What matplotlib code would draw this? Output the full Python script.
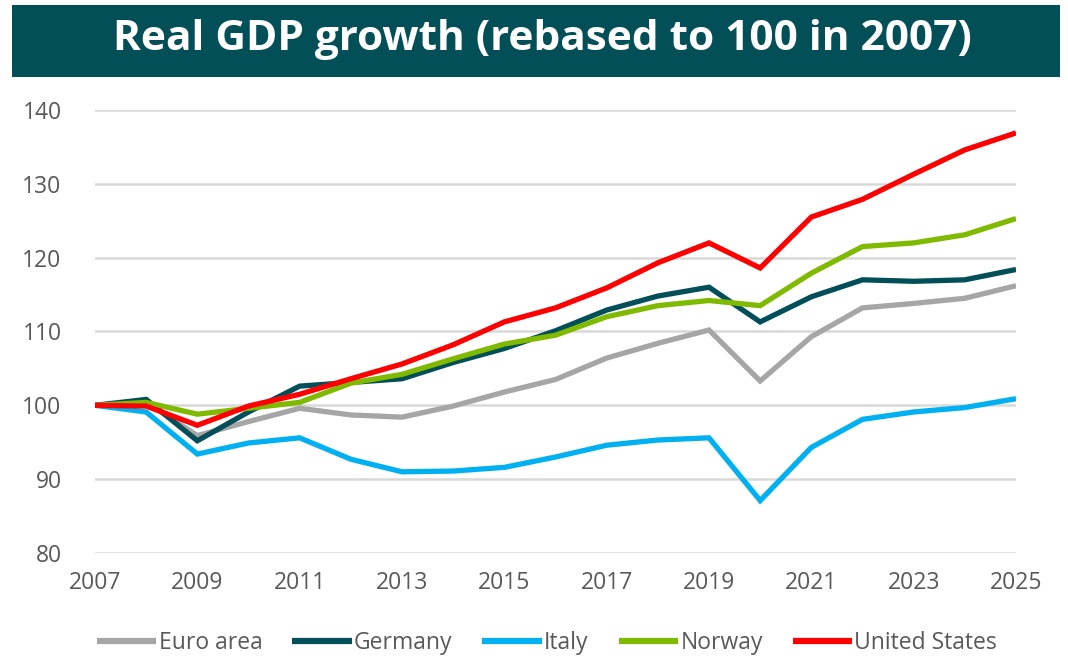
import matplotlib
matplotlib.use("Agg")
import matplotlib.pyplot as plt
from matplotlib.patches import Rectangle

years = list(range(2007, 2026))
euro_area = [100.0, 100.4, 95.9, 97.8, 99.6, 98.7, 98.4, 99.9, 101.8, 103.5, 106.4, 108.4, 110.2, 103.3, 109.3, 113.2, 113.8, 114.5, 116.2]
germany = [100.0, 100.8, 95.2, 99.1, 102.6, 103.1, 103.6, 105.8, 107.7, 110.1, 112.9, 114.8, 116.0, 111.3, 114.7, 117.0, 116.8, 117.0, 118.4]
italy = [100.0, 99.1, 93.4, 94.9, 95.6, 92.7, 91.0, 91.1, 91.6, 93.0, 94.6, 95.3, 95.6, 87.1, 94.3, 98.1, 99.1, 99.7, 100.9]
norway = [100.0, 100.4, 98.8, 99.6, 100.4, 103.0, 104.2, 106.3, 108.3, 109.5, 112.0, 113.5, 114.2, 113.5, 117.9, 121.5, 122.0, 123.1, 125.3]
united_states = [100.0, 99.9, 97.3, 99.9, 101.5, 103.6, 105.6, 108.2, 111.3, 113.2, 115.9, 119.3, 122.0, 118.6, 125.5, 127.9, 131.3, 134.6, 136.9]

series_names = ["Euro area", "Germany", "Italy", "Norway", "United States"]
series_values = [euro_area, germany, italy, norway, united_states]
series_colors = ["#a6a6a6", "#024f59", "#00b0f0", "#7fba00", "#ff0000"]

y_ticks = [80, 90, 100, 110, 120, 130, 140]
x_ticks = list(range(2007, 2026, 2))
title = "Real GDP growth (rebased to 100 in 2007)"

plt.rcParams['font.family'] = ['Open Sans', 'DejaVu Sans']

fig = plt.figure(figsize=(10.68, 6.6), dpi=100)
W, H = 1068, 660

# Title banner
fig.patches.append(Rectangle((12 / W, 1 - 77 / H), (1060 - 12) / W, (77 - 5) / H,
                             transform=fig.transFigure, facecolor="#034f58",
                             edgecolor="none", zorder=0))
fig.text(542 / W, 1 - 40 / H, title, ha="center", va="center", color="white",
         fontsize=30.5, fontweight="bold")

ax = fig.add_axes([95 / W, 1 - 553 / H, (1016 - 95) / W, (553 - 110) / H])
for name, vals, col in zip(series_names, series_values, series_colors):
    ax.plot(years, vals, color=col, lw=3.8, label=name, solid_joinstyle="miter",
            solid_capstyle="butt")

ax.set_xlim(2007, 2025)
ax.set_ylim(80, 140)
ax.set_yticks(y_ticks)
ax.set_xticks(x_ticks)
ax.grid(axis="y", color="#d9d9d9", lw=1.8)
ax.set_axisbelow(True)
for s in ax.spines.values():
    s.set_visible(False)
ax.tick_params(axis="both", length=0, labelsize=16.5, labelcolor="#595959")
ax.tick_params(axis="y", pad=24)
ax.tick_params(axis="x", pad=13)

leg = fig.legend(loc="center", bbox_to_anchor=(547 / W, 1 - 643 / H), ncol=5,
                 frameon=False, fontsize=16.5, handlelength=2.6, handletextpad=0.1,
                 columnspacing=1.3)
for t in leg.get_texts():
    t.set_color("#595959")
for l in leg.get_lines():
    l.set_linewidth(4.5)

fig.savefig("out.png", dpi=100)
